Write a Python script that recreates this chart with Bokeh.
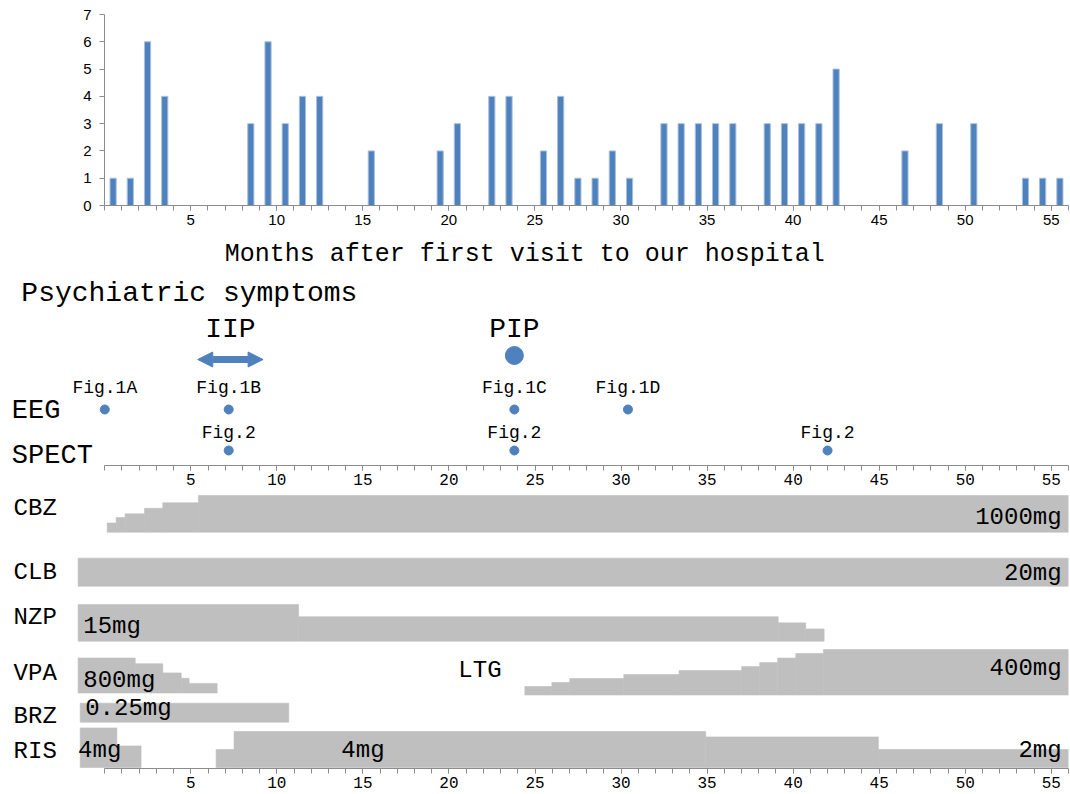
from bokeh.plotting import figure
from bokeh.models import Range1d, FixedTicker, Arrow, NormalHead
from bokeh.core.properties import value
from bokeh.embed import file_html
from bokeh.resources import INLINE

# ---------------- data ----------------
months = list(range(1, 57))
visits = [1, 1, 6, 4, 0, 0, 0, 0, 3, 6, 3, 4, 4, 0, 0, 2, 0, 0, 0, 2,
          3, 0, 4, 4, 0, 2, 4, 1, 1, 2, 1, 0, 3, 3, 3, 3, 3, 0, 3, 3,
          3, 3, 5, 0, 0, 0, 2, 0, 3, 0, 3, 0, 0, 1, 1, 1]
x_tick_labels = [5, 10, 15, 20, 25, 30, 35, 40, 45, 50, 55]
y_tick_labels = [0, 1, 2, 3, 4, 5, 6, 7]

iip_start, iip_end = 5.4, 9.2
pip_month = 23.8
eeg_months = [0.0, 7.2, 23.8, 30.4]
eeg_labels = ["Fig.1A", "Fig.1B", "Fig.1C", "Fig.1D"]
spect_months = [7.2, 23.8, 42.0]
spect_labels = ["Fig.2", "Fig.2", "Fig.2"]

cbz_start = [0.14, 0.66, 1.18, 2.31, 3.37, 5.44]
cbz_end = [0.66, 1.18, 2.31, 3.37, 5.44, 56]
cbz_mg = [250, 400, 500, 650, 800, 1000]

clb_start = [-1.55]
clb_end = [56]
clb_mg = [20]

nzp_start = [-1.55, 11.26, 39.13, 40.73]
nzp_end = [11.26, 39.13, 40.73, 41.8]
nzp_mg = [15, 10, 7.5, 5]

vpa_start = [-1.55, 1.77, 3.37, 4.44, 4.9]
vpa_end = [1.77, 3.37, 4.44, 4.9, 6.53]
vpa_mg = [800, 670, 460, 335, 220]

ltg_start = [24.41, 25.98, 27.02, 30.16, 33.37, 37.01, 38.06, 39.1, 40.15, 41.76]
ltg_end = [25.98, 27.02, 30.16, 33.37, 37.01, 38.06, 39.1, 40.15, 41.76, 56]
ltg_mg = [75, 110, 145, 180, 215, 250, 285, 325, 365, 400]

brz_start = [-1.43]
brz_end = [10.69]
brz_mg = [0.25]

ris_start = [-1.43, 0.70, 6.47, 7.51, 34.92, 44.95]
ris_end = [0.70, 2.11, 7.51, 34.92, 44.95, 56]
ris_mg = [4.4, 2.4, 2, 4, 3.4, 2]

# ---------------- style ----------------
MONO = "Liberation Mono"
SANS = "Liberation Sans"
BLUE = "#4F81BD"
GREY = "#BFBFBF"
AX = "#8C8C8C"
W = 1070


def base_fig(**kw):
    p = figure(output_backend="svg", toolbar_location=None, **kw)
    p.grid.visible = False
    p.outline_line_color = None
    p.background_fill_color = "white"
    p.border_fill_color = "white"
    return p


def style_month_axis(ax, font, size, standoff):
    ax.ticker = FixedTicker(ticks=x_tick_labels, minor_ticks=list(range(0, 57)))
    ax.major_tick_in = 0
    ax.major_tick_out = 5
    ax.minor_tick_in = 0
    ax.minor_tick_out = 5
    ax.axis_line_color = AX
    ax.major_tick_line_color = AX
    ax.minor_tick_line_color = AX
    ax.major_label_text_font = font
    ax.major_label_text_font_size = size
    ax.major_label_text_color = "#000000"
    ax.major_label_standoff = standoff


# ---------------- top: visits bar chart ----------------
pA = base_fig(width=W, height=238, x_range=Range1d(0, 56), y_range=Range1d(0, 7),
              min_border_left=104, min_border_right=2, min_border_top=14, min_border_bottom=33)
pA.vbar(x=[m - 0.5 for m in months], top=visits, width=0.36,
        fill_color=BLUE, line_color="#A9C1DF", line_width=1)
style_month_axis(pA.xaxis[0], SANS, "15px", 4)
pA.yaxis.ticker = FixedTicker(ticks=y_tick_labels, minor_ticks=[])
pA.yaxis.major_tick_in = 0
pA.yaxis.major_tick_out = 5
pA.yaxis.minor_tick_out = 0
pA.yaxis.axis_line_color = AX
pA.yaxis.major_tick_line_color = AX
pA.yaxis.major_label_text_font = SANS
pA.yaxis.major_label_text_font_size = "15px"
pA.yaxis.major_label_text_color = "#000000"
pA.yaxis.major_label_standoff = 8

# ---------------- middle: symptoms / EEG / SPECT ----------------
XR = (-6.06, 56)
pB = base_fig(width=W, height=252, x_range=Range1d(*XR), y_range=Range1d(0, 227),
              y_axis_location=None, min_border_left=0, min_border_right=2,
              min_border_top=0, min_border_bottom=25)
style_month_axis(pB.xaxis[0], MONO, "16px", 3)
pB.xaxis.bounds = (0, 56)

pB.text(x=[24.4], y=[211], text=["Months after first visit to our hospital"],
        text_font=value(MONO), text_font_size="25px", text_align="center",
        text_baseline="middle", text_color="#000000")
pB.text(x=[-4.85], y=[172], text=["Psychiatric symptoms"], text_font=value(MONO),
        text_font_size="28px", text_align="left", text_baseline="middle", text_color="#000000")
pB.text(x=[(iip_start + iip_end) / 2, pip_month], y=[136, 136], text=["IIP", "PIP"],
        text_font=value(MONO), text_font_size="28px", text_align="center",
        text_baseline="middle", text_color="#000000")
pB.add_layout(Arrow(x_start=iip_start, y_start=106, x_end=iip_end, y_end=106,
                    start=NormalHead(size=15, fill_color=BLUE, line_color=BLUE),
                    end=NormalHead(size=15, fill_color=BLUE, line_color=BLUE),
                    line_color=BLUE, line_width=7))
pB.scatter(x=[pip_month], y=[110], size=18, color=BLUE)

pB.text(x=[-5.4, -5.4], y=[55, 10], text=["EEG", "SPECT"], text_font=value(MONO),
        text_font_size="27px", text_align="left", text_baseline="middle", text_color="#000000")
pB.scatter(x=eeg_months, y=[56] * len(eeg_months), size=9, color=BLUE)
pB.text(x=eeg_months, y=[78] * len(eeg_months), text=eeg_labels, text_font=value(MONO),
        text_font_size="18px", text_align="center", text_baseline="middle", text_color="#000000")
pB.scatter(x=spect_months, y=[15] * len(spect_months), size=9, color=BLUE)
pB.text(x=spect_months, y=[33] * len(spect_months), text=spect_labels, text_font=value(MONO),
        text_font_size="18px", text_align="center", text_baseline="middle", text_color="#000000")

# ---------------- bottom: medication ----------------
pC = base_fig(width=W, height=304, x_range=Range1d(*XR), y_range=Range1d(0, 278),
              y_axis_location=None, min_border_left=0, min_border_right=2,
              min_border_top=0, min_border_bottom=26)
style_month_axis(pC.xaxis[0], MONO, "16px", 3)
pC.xaxis.bounds = (0, 56)

# (start, end, dose, baseline, px-per-mg)
rows = [
    (cbz_start, cbz_end, cbz_mg, 236.3, 36.7 / 1000),
    (clb_start, clb_end, clb_mg, 182.3, 28 / 20),
    (nzp_start, nzp_end, nzp_mg, 127.3, 36.7 / 15),
    (vpa_start, vpa_end, vpa_mg, 75.5, 35 / 800),
    (ltg_start, ltg_end, ltg_mg, 73.5, 45.5 / 400),
    (brz_start, brz_end, brz_mg, 46.3, 19 / 0.25),
    (ris_start, ris_end, ris_mg, 1.0, 36 / 4),
]
for s, e, mg, base, k in rows:
    pC.quad(left=s, right=e, bottom=[base] * len(s), top=[base + d * k for d in mg],
            fill_color=GREY, line_color=GREY, line_width=0.6)

name_font = dict(text_font=value(MONO), text_font_size="24px", text_baseline="middle",
                 text_color="#000000")
pC.text(x=[-5.3] * 6, y=[260, 196, 151, 95, 52, 17],
        text=["CBZ", "CLB", "NZP", "VPA", "BRZ", "RIS"], text_align="left", **name_font)
pC.text(x=[21.8], y=[98], text=["LTG"], text_align="center", **name_font)
pC.text(x=[55.6] * 4, y=[251, 195, 100, 18], text=["1000mg", "20mg", "400mg", "2mg"],
        text_align="right", **name_font)
pC.text(x=[-1.25, -1.25, -1.14, -1.55], y=[142, 88, 60, 18],
        text=["15mg", "800mg", "0.25mg", "4mg"], text_align="left", **name_font)
pC.text(x=[15.0], y=[18], text=["4mg"], text_align="center", **name_font)

open("out.html", "w").write(file_html([pA, pB, pC], INLINE))
